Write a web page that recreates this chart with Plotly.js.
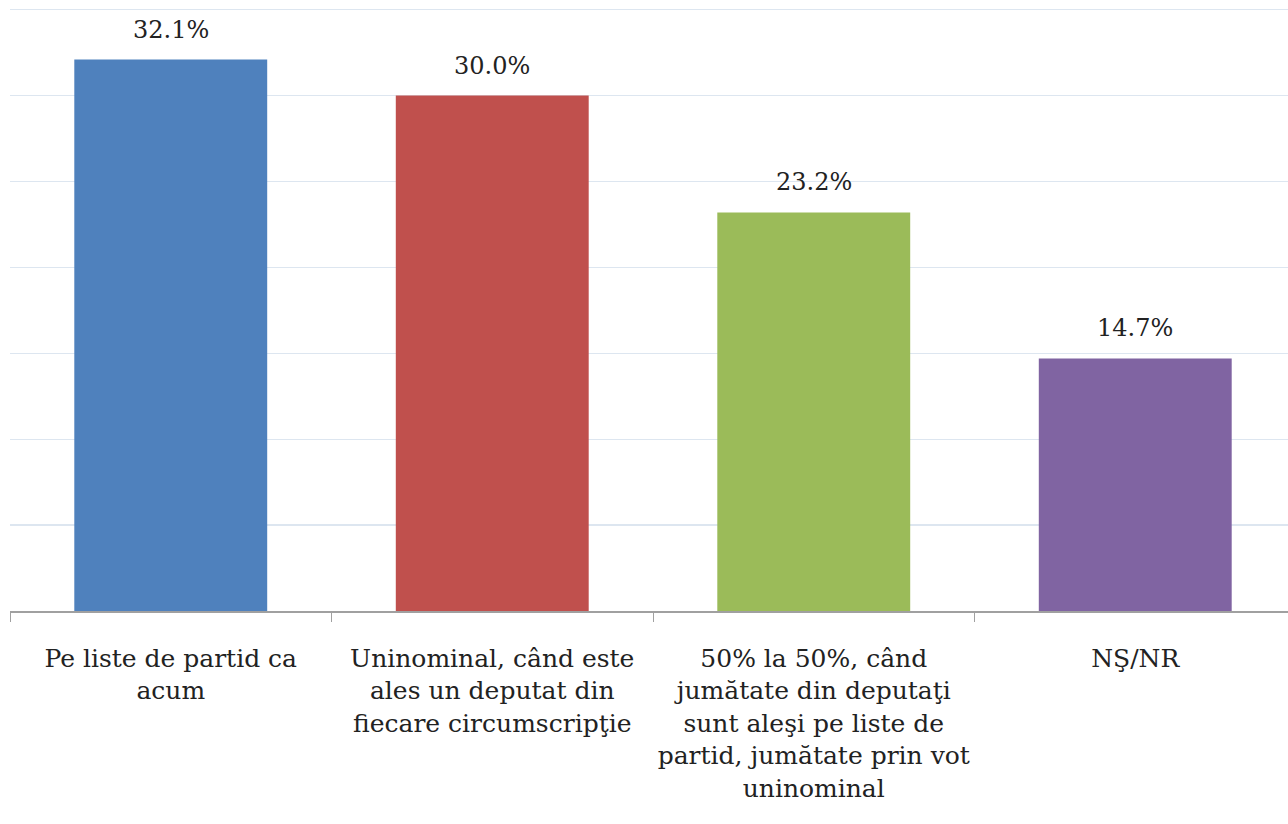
<!DOCTYPE html>
<html><head><meta charset="utf-8">
<script src="https://cdn.plot.ly/plotly-3.0.1.min.js"></script>
<style>html,body{margin:0;padding:0;overflow:hidden;background:#fff}</style>
</head><body><div id="chart"></div>
<script>
const categories = ["Pe liste de partid ca acum", "Uninominal, când este ales un deputat din fiecare circumscripţie", "50% la 50%, când jumătate din deputaţi sunt aleşi pe liste de partid, jumătate prin vot uninominal", "NŞ/NR"];
const tickLabels = ["Pe liste de partid ca<br>acum", "Uninominal, când este<br>ales un deputat din<br>fiecare circumscripţie", "50% la 50%, când<br>jumătate din deputaţi<br>sunt aleşi pe liste de<br>partid, jumătate prin vot<br>uninominal", "NŞ/NR"];
const values = [32.1, 30.0, 23.2, 14.7];
const colors = ["#4f81bd", "#c0504d", "#9bbb59", "#8064a2"];
const FONT = "DejaVu Serif, serif";

const trace = {
  type: "bar", x: categories, y: values,
  marker: {color: colors},
  hoverinfo: "none"
};
const annotations = categories.map((c, i) => ({
  x: c, y: values[i], text: values[i].toFixed(1) + "%",
  showarrow: false, yanchor: "bottom", yshift: 14,
  font: {family: FONT, size: 24, color: "#222"}
}));
const layout = {
  width: 1300, height: 824,
  margin: {l: 10, r: 4, t: 8, b: 213},
  paper_bgcolor: "#fff", plot_bgcolor: "#fff",
  bargap: 0.4, showlegend: false,
  font: {family: FONT, size: 25, color: "#222"},
  xaxis: {
    type: "category", tickmode: "array", tickvals: categories, ticktext: tickLabels,
    tickson: "boundaries", ticks: "outside", ticklen: 9, tickcolor: "#a0a0a0",
    showline: true, linecolor: "#a0a0a0", linewidth: 1.5,
    showgrid: false, ticklabelstandoff: 24,
    tickfont: {family: FONT, size: 25, color: "#222"}
  },
  yaxis: {
    range: [0, 35.1], dtick: 5, showticklabels: false,
    showgrid: true, gridcolor: "#dde6f0", gridwidth: 1.2,
    zeroline: false, showline: false
  },
  annotations: annotations
};
Plotly.newPlot("chart", [trace], layout, {displayModeBar: false, staticPlot: true});
</script></body></html>
